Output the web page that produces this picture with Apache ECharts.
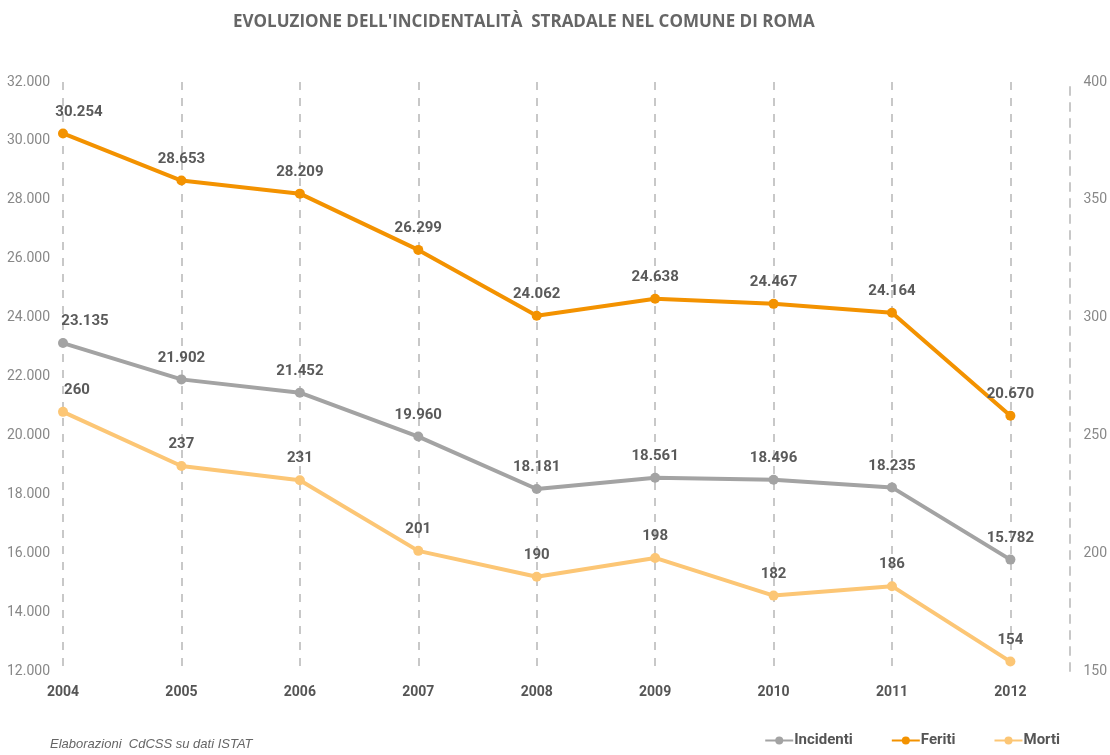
<!DOCTYPE html>
<html>
<head>
<meta charset="utf-8">
<script src="https://cdn.jsdelivr.net/npm/echarts@6/dist/echarts.min.js"></script>
<style>
  html, body { margin: 0; padding: 0; background: #fff; }
  #chart { width: 1110px; height: 755px; }
</style>
</head>
<body>
<div id="chart"></div>
<script>
const years = ["2004", "2005", "2006", "2007", "2008", "2009", "2010", "2011", "2012"];
const incidenti = [23135, 21902, 21452, 19960, 18181, 18561, 18496, 18235, 15782];
const feriti = [30254, 28653, 28209, 26299, 24062, 24638, 24467, 24164, 20670];
const morti = [260, 237, 231, 201, 190, 198, 182, 186, 154];

const narrow = '"Liberation Sans Narrow", "Roboto", "Liberation Sans", sans-serif';

// numeri in formato italiano (punto come separatore delle migliaia)
function fmt(v) {
  return String(v).replace(/\B(?=(\d{3})+(?!\d))/g, ".");
}

function lineSeries(name, data, color, yIndex, firstShift) {
  return {
    name: name,
    type: "line",
    yAxisIndex: yIndex,
    // la prima etichetta è spostata a destra come nell'originale
    data: data.map((v, i) =>
      i === 0 ? { value: v, label: { offset: [firstShift, 0] } } : v
    ),
    symbol: "circle",
    symbolSize: 10,
    lineStyle: { width: 4, color: color },
    itemStyle: { color: color },
    label: {
      show: true,
      position: "top",
      distance: 9,
      color: "#5a5a5a",
      fontWeight: "bold",
      fontSize: 15,
      fontFamily: narrow,
      formatter: (p) => fmt(p.value),
    },
  };
}

const myChart = echarts.init(document.getElementById("chart"));
myChart.setOption({
  backgroundColor: "#ffffff",
  animation: false,
  title: {
    text: "EVOLUZIONE DELL'INCIDENTALITÀ  STRADALE NEL COMUNE DI ROMA",
    left: 228,
    top: 9,
    textStyle: {
      color: "#666",
      fontSize: 17,
      fontWeight: "bold",
      fontFamily: '"Open Sans", sans-serif',
    },
  },
  graphic: [
    {
      type: "text",
      left: 50,
      top: 738,
      style: {
        text: "Elaborazioni  CdCSS su dati ISTAT",
        fill: "#666",
        font: 'italic 13px "Liberation Sans", sans-serif',
      },
    },
  ],
  legend: {
    bottom: 2,
    right: 45,
    itemGap: 38,
    itemWidth: 28,
    itemHeight: 10,
    data: ["Incidenti", "Feriti", "Morti"],
    textStyle: {
      color: "#555",
      fontSize: 15,
      fontWeight: "bold",
      fontFamily: narrow,
      padding: [0, 0, 0, -4],
    },
  },
  grid: {
    left: 63,
    right: 99,
    top: 82,
    bottom: 84,
  },
  xAxis: {
    type: "category",
    boundaryGap: false,
    data: years,
    axisLine: { show: false },
    axisTick: { show: false },
    axisLabel: {
      color: "#555",
      fontWeight: "bold",
      fontSize: 14,
      fontFamily: narrow,
      margin: 14,
    },
    splitLine: {
      show: true,
      lineStyle: { color: "#c8c8c8", type: [8, 8], width: 2 },
    },
  },
  yAxis: [
    {
      type: "value",
      min: 12000,
      max: 32000,
      interval: 2000,
      position: "left",
      axisLine: { show: false },
      axisTick: { show: false },
      splitLine: { show: false },
      axisLabel: {
        color: "#888",
        fontSize: 14,
        fontFamily: narrow,
        margin: 13,
        formatter: (v) => fmt(v),
      },
    },
    {
      type: "value",
      min: 150,
      max: 400,
      interval: 50,
      position: "right",
      offset: 59,
      axisLine: {
        show: true,
        lineStyle: { color: "#c8c8c8", type: [8, 8], width: 2 },
      },
      axisTick: { show: false },
      splitLine: { show: false },
      axisLabel: {
        color: "#888",
        fontSize: 14,
        fontFamily: narrow,
        margin: 14,
      },
    },
  ],
  series: [
    lineSeries("Incidenti", incidenti, "#a3a3a3", 0, 22),
    lineSeries("Feriti", feriti, "#f39200", 0, 16),
    lineSeries("Morti", morti, "#fcc675", 1, 14),
  ],
});
</script>
</body>
</html>
